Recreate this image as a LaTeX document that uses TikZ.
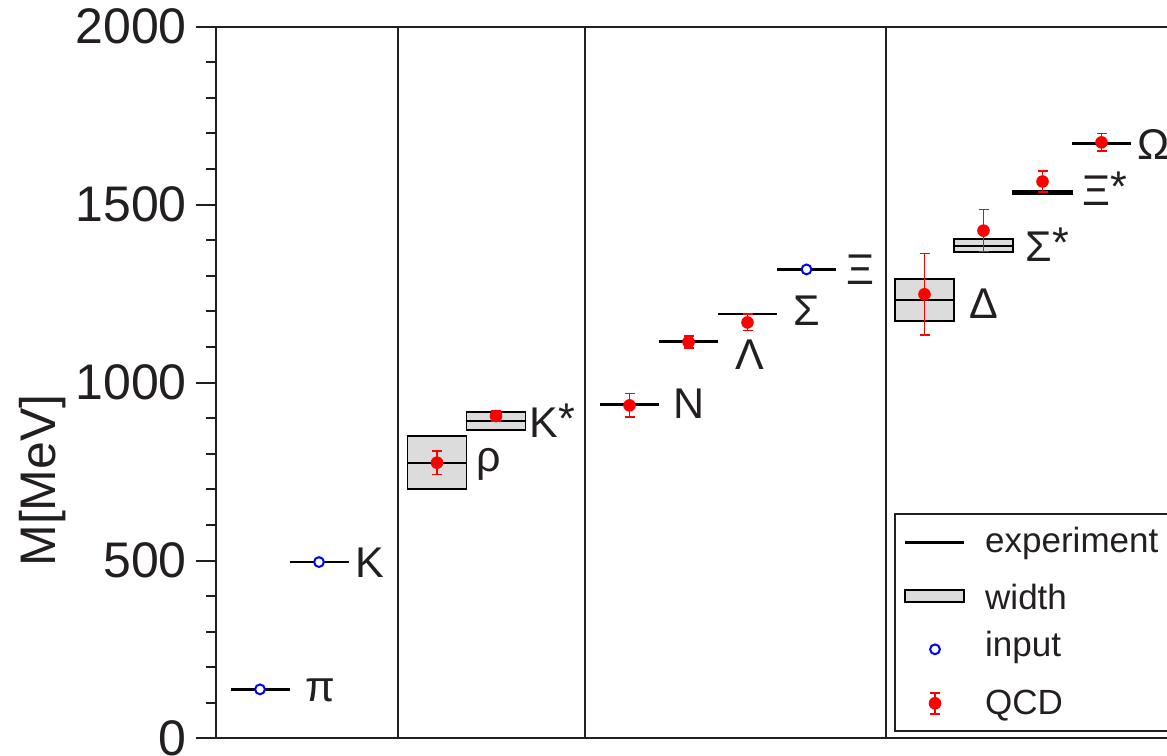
\documentclass[tikz,border=0pt]{standalone}
\usepackage{fontspec}
\setmainfont{Liberation Sans}
\definecolor{boxgray}{RGB}{220,220,220}
\definecolor{ink}{RGB}{35,31,32}
\newcommand\qcdpt[4]{%
  \draw[qcderr] (#1-5,#2-#3) -- (#1+5,#2-#3) (#1,#2-#3) -- (#1,#2+#3) (#1-5,#2+#3) -- (#1+5,#2+#3);
  \node[qcddot] (#4) at (#1,#2) {};}
\begin{document}
\begin{tikzpicture}[x=1pt,y=0.3559pt,
  frame/.style={line width=2pt, draw=ink},
  level/.style={line width=2.6pt, draw=black},
  midline/.style={line width=2pt, draw=black},
  widthbox/.style={draw=black, line width=1.8pt, fill=boxgray},
  qcderr/.style={draw=red, line width=1.7pt},
  qcddot/.style={circle, fill=red, draw=none, inner sep=0pt, minimum size=12.6pt},
  inputc/.style={circle, draw=blue, line width=2pt, fill=white, inner sep=0pt, minimum size=9.8pt},
  lab/.style={anchor=west, inner sep=0pt, font=\fontsize{43}{50}\selectfont, text=ink},
  ticklab/.style={anchor=east, inner sep=0pt, font=\fontsize{50}{60}\selectfont, text=ink},
  legtext/.style={anchor=base west, inner sep=0pt, font=\fontsize{35}{42}\selectfont, text=ink}
]
\clip (0,-49.17) rectangle (1167,2075);
% axis frame
\draw[frame] (216,2000) -- (216,0) -- (1200,0);
\draw[frame] (196,2000) -- (1200,2000);
\draw[frame] (398,0) -- (398,2000);
\draw[frame] (585,0) -- (585,2000);
\draw[frame] (886,0) -- (886,2000);
\foreach \v in {100,200,...,1900} {\draw[frame] (206,\v) -- (216,\v);}
\foreach \v in {0,500,...,2000} {\draw[frame] (196,\v) -- (216,\v);
  \node[ticklab] (t\v) at (187,\v) {\v};}
\node[rotate=90, inner sep=0pt, font=\fontsize{50}{60}\selectfont, text=ink] (ylab) at (42.5,725) {M[MeV]};
% pseudoscalar mesons
\draw[level] (230.5,138) -- (289.5,138);
\node[inputc] (piIn) at (260,138) {};
\node[lab] (piL) at (305,136.3) {π};
\draw[level] (289.5,495.7) -- (348.5,495.7);
\node[inputc] (KIn) at (319,495.7) {};
\node[lab] (KL) at (355,493.1) {K};
% vector mesons
\draw[widthbox] (407.5,700.5) rectangle (466.5,849.5);
\draw[midline] (407.5,775) -- (466.5,775);
\qcdpt{437}{775}{33}{rhoQ}
\node[lab] (rhoL) at (476.5,771.3) {ρ};
\draw[widthbox] (466.5,867) rectangle (525.5,917);
\draw[midline] (466.5,892) -- (525.5,892);
\qcdpt{496}{906}{14}{KsQ}
\node[lab] (KsL) at (529.5,887.9) {K\smash{\raisebox{4pt}{*}}};
% octet baryons
\draw[level] (600,939) -- (659,939);
\qcdpt{629.5}{936}{33}{NQ}
\node[lab] (NL) at (673,940.4) {N};
\draw[level] (659,1116) -- (718,1116);
\qcdpt{688.5}{1114}{16}{LQ}
\node[lab] (LL) at (735.5,1079.5) {Λ};
\draw[level] (718,1193) -- (777,1193);
\qcdpt{747.5}{1169}{23}{SQ}
\node[lab] (SL) at (793,1202.6) {Σ};
\draw[level] (777,1318) -- (836,1318);
\node[inputc] (XIn) at (806.5,1318) {};
\node[lab] (XL) at (846.5,1317.8) {Ξ};
% decuplet baryons
\draw[widthbox] (895,1173) rectangle (954,1291);
\draw[midline] (895,1232) -- (954,1232);
\qcdpt{924.5}{1248}{115}{DQ}
\node[lab] (DL) at (969,1221.7) {Δ};
\draw[widthbox] (954,1367) rectangle (1013,1403);
\draw[midline] (954,1385) -- (1013,1385);
\qcdpt{983.5}{1427}{59}{SsQ}
\node[lab] (SsL) at (1025.5,1381.8) {Σ\smash{\raisebox{4pt}{*}}};
\draw[widthbox] (1013,1528.5) rectangle (1072,1537.5);
\draw[midline] (1013,1533) -- (1072,1533);
\qcdpt{1042.5}{1565}{30}{XsQ}
\node[lab] (XsL) at (1082,1538.3) {Ξ\smash{\raisebox{4pt}{*}}};
\draw[level] (1072,1672) -- (1131,1672);
\qcdpt{1101.5}{1675}{25}{OQ}
\node[lab] (OL) at (1137,1668.4) {Ω};
% legend
\draw[line width=1.5pt, draw=ink, fill=white] (895,21.1) rectangle (1200,630.8);
\draw[level] (905,550.1) -- (964,550.1);
\node[legtext] (legExp) at (985,522) {experiment};
\draw[widthbox] (905,384.4) rectangle (964,417.2);
\node[legtext] (legW) at (985,363) {width};
\node[inputc] (legIn) at (935,250.6) {};
\node[legtext] (legInT) at (985,229.8) {input};
\qcdpt{935}{98.9}{29.5}{legQ}
\node[legtext] (legQT) at (985,66) {QCD};
\end{tikzpicture}
\end{document}
